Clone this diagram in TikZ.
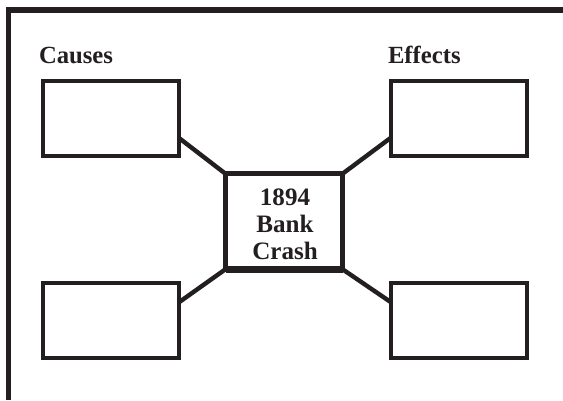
\documentclass[tikz,border=0pt]{standalone}
\usepackage{fontspec}
\setmainfont{Liberation Serif}
\definecolor{ink}{HTML}{231F20}
\begin{document}
\begin{tikzpicture}[x=0.75pt,y=-0.75pt,
  every node/.style={inner sep=0pt,outer sep=0pt},
  blank/.style={draw=ink,line width=3pt,minimum width=102pt,minimum height=56.25pt},
  hub/.style={draw=ink,line width=3.8pt,minimum width=87.75pt,minimum height=71.6pt},
  hubtext/.style={align=center,font=\bfseries\fontsize{18.8}{20.3}\selectfont,text=ink},
  heading/.style={anchor=base west,font=\bfseries\fontsize{18.5}{22}\selectfont,text=ink},
  link/.style={draw=ink,line width=3.3pt},
  frame/.style={draw=ink,line width=3.9pt}]
\useasboundingbox (0,0) rectangle (563,400);
\fill[white] (0,0) rectangle (563,400);
\draw[frame] (8.5,400) -- (8.5,10) -- (563,10);
\node[heading] (causes) at (39,63) {Causes};
\node[heading] (effects) at (388,63) {Effects};
\node[blank] (tl) at (111,118.5) {};
\node[blank] (tr) at (458.5,118.5) {};
\node[blank] (bl) at (111,320.5) {};
\node[blank] (br) at (459,320.5) {};
\node[hub] (c) at (284,221.5) {};
\draw[draw=ink,line width=5pt] (c.south west) -- (c.south east);
\node[hubtext] (title) at (285,224) {1894\\Bank\\Crash};
\draw[link] (tl.-16) -- (c.north west);
\draw[link] (tr.196) -- (c.north east);
\draw[link] (bl.15) -- (c.south west);
\draw[link] (br.165) -- (c.south east);
\end{tikzpicture}
\end{document}
